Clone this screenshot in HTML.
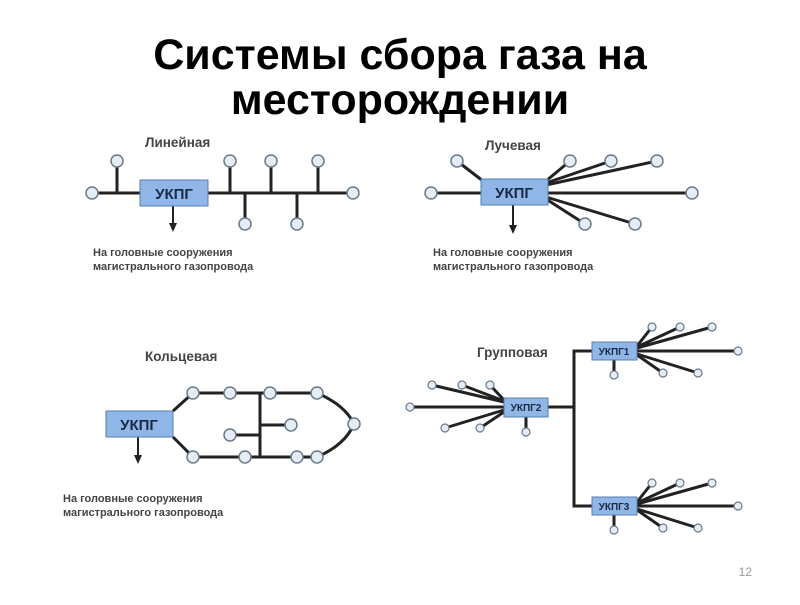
<!DOCTYPE html>
<html><head><meta charset="utf-8"><style>
body{margin:0;background:#fff;width:800px;height:600px;overflow:hidden;font-family:"Liberation Sans",sans-serif}
</style></head><body>
<svg width="800" height="600" xmlns="http://www.w3.org/2000/svg" font-family="Liberation Sans, sans-serif">
<text x="400" y="69" text-anchor="middle" font-size="43" font-weight="bold" fill="#000">Системы сбора газа на</text>
<text x="400" y="114" text-anchor="middle" font-size="43" font-weight="bold" fill="#000">месторождении</text>
<g stroke="#222" stroke-width="3" fill="none">
<line x1="92" y1="193" x2="353" y2="193"/>
<line x1="117" y1="193" x2="117" y2="161"/>
<line x1="230" y1="193" x2="230" y2="161"/>
<line x1="271" y1="193" x2="271" y2="161"/>
<line x1="318" y1="193" x2="318" y2="161"/>
<line x1="245" y1="193" x2="245" y2="224"/>
<line x1="297" y1="193" x2="297" y2="224"/>
<line x1="173" y1="206" x2="173" y2="224" stroke-width="2"/>
<line x1="431" y1="193" x2="692" y2="193"/>
<line x1="457" y1="161" x2="483" y2="181"/>
<line x1="546" y1="181" x2="570" y2="161"/>
<line x1="546" y1="183" x2="611" y2="161"/>
<line x1="546" y1="185" x2="657" y2="161"/>
<line x1="546" y1="199" x2="585" y2="224"/>
<line x1="546" y1="197" x2="635" y2="224"/>
<line x1="513" y1="205" x2="513" y2="226" stroke-width="2"/>
<path d="M173 411 L193 393 L317 393 Q345 405 354 424 Q345 445 317 457 L193 457 L173 437"/>
<line x1="260" y1="393" x2="260" y2="457"/>
<line x1="260" y1="425" x2="291" y2="425"/>
<line x1="260" y1="435" x2="230" y2="435"/>
<line x1="138" y1="437" x2="138" y2="456" stroke-width="2"/>
<polyline points="548,407 574,407"/>
<polyline points="592,351 574,351 574,506 592,506"/>
<line x1="637" y1="346" x2="652" y2="327"/>
<line x1="637" y1="347" x2="680" y2="327"/>
<line x1="637" y1="348" x2="712" y2="327"/>
<line x1="637" y1="351" x2="738" y2="351"/>
<line x1="637" y1="355" x2="663" y2="373"/>
<line x1="637" y1="354" x2="698" y2="373"/>
<line x1="614" y1="360" x2="614" y2="375"/>
<line x1="637" y1="502" x2="652" y2="483"/>
<line x1="637" y1="503" x2="680" y2="483"/>
<line x1="637" y1="504" x2="712" y2="483"/>
<line x1="637" y1="506" x2="738" y2="506"/>
<line x1="637" y1="510" x2="663" y2="528"/>
<line x1="637" y1="509" x2="698" y2="528"/>
<line x1="614" y1="515" x2="614" y2="530"/>
<line x1="410" y1="407" x2="504" y2="407"/>
<line x1="432" y1="385" x2="504" y2="402"/>
<line x1="462" y1="385" x2="504" y2="401"/>
<line x1="490" y1="385" x2="504" y2="400"/>
<line x1="445" y1="428" x2="504" y2="410"/>
<line x1="480" y1="428" x2="504" y2="412"/>
<line x1="526" y1="417" x2="526" y2="432"/>
</g>
<g fill="#222">
<polygon points="169,223 177,223 173,232"/>
<polygon points="509,225 517,225 513,234"/>
<polygon points="134,455 142,455 138,464"/>
</g>
<g fill="#e4ecf6" stroke="#6b7a8a" stroke-width="1.5">
<circle cx="92" cy="193" r="6"/><circle cx="117" cy="161" r="6"/><circle cx="230" cy="161" r="6"/><circle cx="271" cy="161" r="6"/><circle cx="318" cy="161" r="6"/><circle cx="245" cy="224" r="6"/><circle cx="297" cy="224" r="6"/><circle cx="353" cy="193" r="6"/>
<circle cx="431" cy="193" r="6"/><circle cx="457" cy="161" r="6"/><circle cx="570" cy="161" r="6"/><circle cx="611" cy="161" r="6"/><circle cx="657" cy="161" r="6"/><circle cx="692" cy="193" r="6"/><circle cx="585" cy="224" r="6"/><circle cx="635" cy="224" r="6"/>
<circle cx="193" cy="393" r="6"/><circle cx="230" cy="393" r="6"/><circle cx="270" cy="393" r="6"/><circle cx="317" cy="393" r="6"/><circle cx="354" cy="424" r="6"/><circle cx="193" cy="457" r="6"/><circle cx="245" cy="457" r="6"/><circle cx="297" cy="457" r="6"/><circle cx="317" cy="457" r="6"/><circle cx="291" cy="425" r="6"/><circle cx="230" cy="435" r="6"/>
</g>
<g fill="#e4ecf6" stroke="#6b7a8a" stroke-width="1.2">
<circle cx="652" cy="327" r="4"/><circle cx="680" cy="327" r="4"/><circle cx="712" cy="327" r="4"/><circle cx="738" cy="351" r="4"/><circle cx="663" cy="373" r="4"/><circle cx="698" cy="373" r="4"/><circle cx="614" cy="375" r="4"/>
<circle cx="652" cy="483" r="4"/><circle cx="680" cy="483" r="4"/><circle cx="712" cy="483" r="4"/><circle cx="738" cy="506" r="4"/><circle cx="663" cy="528" r="4"/><circle cx="698" cy="528" r="4"/><circle cx="614" cy="530" r="4"/>
<circle cx="410" cy="407" r="4"/><circle cx="432" cy="385" r="4"/><circle cx="462" cy="385" r="4"/><circle cx="490" cy="385" r="4"/><circle cx="445" cy="428" r="4"/><circle cx="480" cy="428" r="4"/><circle cx="526" cy="432" r="4"/>
</g>
<g fill="#8fb6e6" stroke="#5b7fae" stroke-width="1">
<rect x="140" y="180" width="68" height="26"/>
<rect x="481" y="179" width="67" height="26"/>
<rect x="106" y="411" width="67" height="26"/>
<rect x="592" y="342" width="45" height="18"/>
<rect x="504" y="398" width="44" height="19"/>
<rect x="592" y="497" width="45" height="18"/>
</g>
<g font-weight="bold" fill="#1a2a44" text-anchor="middle">
<text x="174" y="199" font-size="15">УКПГ</text>
<text x="514" y="198" font-size="15">УКПГ</text>
<text x="139" y="430" font-size="15">УКПГ</text>
<text x="614" y="355" font-size="10">УКПГ1</text>
<text x="526" y="411" font-size="10">УКПГ2</text>
<text x="614" y="510" font-size="10">УКПГ3</text>
</g>
<g font-weight="bold" fill="#444" font-size="13.5">
<text x="145" y="147">Линейная</text>
<text x="485" y="150">Лучевая</text>
<text x="145" y="361">Кольцевая</text>
<text x="477" y="357">Групповая</text>
</g>
<g fill="#444" font-size="11" font-weight="bold">
<text x="93" y="256">На головные сооружения</text>
<text x="93" y="270">магистрального газопровода</text>
<text x="433" y="256">На головные сооружения</text>
<text x="433" y="270">магистрального газопровода</text>
<text x="63" y="502">На головные сооружения</text>
<text x="63" y="516">магистрального газопровода</text>
</g>
<text x="752" y="576" font-size="12" fill="#999" text-anchor="end">12</text>
</svg>
</body></html>
